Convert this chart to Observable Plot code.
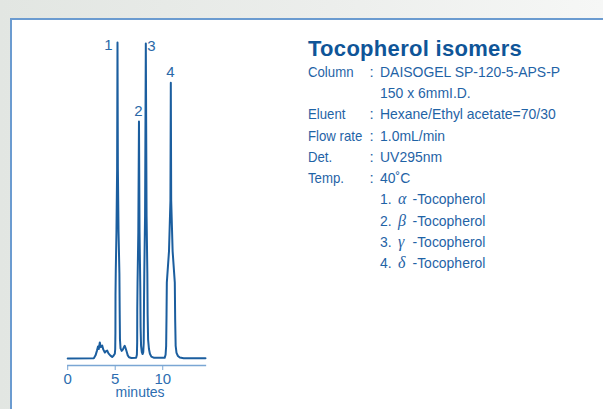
<!DOCTYPE html>
<html><head><meta charset="utf-8">
<script src="https://cdn.jsdelivr.net/npm/d3@7"></script>
<script src="https://cdn.jsdelivr.net/npm/@observablehq/plot@0.6"></script>
<style>
html,body{margin:0;padding:0;}
body{width:603px;height:409px;overflow:hidden;position:relative;background:linear-gradient(to right,#e2e6e2 0%,#eceeec 55%,#f6f7f6 100%);font-family:"Liberation Sans",Arial,sans-serif;}
#box{position:absolute;left:10px;top:18px;width:700px;height:500px;background:#fff;border-left:2px solid #6b9bd0;border-top:2px solid #6b9bd0;}
#chart{position:absolute;left:0;top:0;}
#info{position:absolute;left:0;top:0;}
</style></head><body>
<div id="box"></div><div id="chart"></div><svg id="info" width="603" height="409"></svg>
<script>
// ---- data ----
const title = "Tocopherol isomers";
const specLabels = ["Column", "", "Eluent", "Flow rate", "Det.", "Temp."];
const specValues = ["DAISOGEL SP-120-5-APS-P", "150 x 6mmI.D.", "Hexane/Ethyl acetate=70/30", "1.0mL/min", "UV295nm", "40˚C"];
const compoundNumbers = ["1.", "2.", "3.", "4."];
const compoundGreek = ["α", "β", "γ", "δ"];
const compoundName = "-Tocopherol";
const xTicks = [0, 5, 10];
const xLabel = "minutes";
const peakNumbers = ["1", "2", "3", "4"];
const peakTimes = [5.24, 7.5, 8.22, 10.85];
const peakHeights = [100, 75, 99.7, 87.3];
// chromatogram trace: [time (min), signal]
const trace = [
  [0,0],[2.75,0.1],[2.93,1.0],[3.08,2.5],[3.19,3.8],[3.27,3.0],[3.38,5.1],[3.48,3.6],[3.63,4.1],[3.75,2.8],
  [3.91,1.9],[4.03,2.3],[4.16,2.5],[4.29,1.6],[4.5,0.9],[4.68,0.5],[4.82,0.9],[4.96,1.5],
  [5.00,3],[5.02,8],[5.03,20],[5.06,28],[5.13,40],[5.20,60],[5.24,100],[5.28,60],[5.35,40],[5.44,27],
  [5.47,15],[5.50,6],[5.56,3.2],[5.68,2.4],[5.80,2.8],[5.92,3.6],[6.00,4.0],[6.08,3.4],[6.2,2.2],
  [6.32,1.0],[6.45,0.4],[6.7,0.15],[7.2,0.2],
  [7.28,1.2],[7.31,5],[7.32,15],[7.35,24],[7.43,40],[7.50,75],[7.56,40],[7.64,22],[7.67,10],[7.72,4],
  [7.80,2],[7.88,1.4],
  [7.95,2],[8.00,5],[8.03,18],[8.06,27],[8.14,45],[8.22,99.7],[8.30,45],[8.38,27],[8.41,14],[8.46,6],
  [8.55,3],[8.65,1.5],[8.80,0.6],[9.10,0.2],[10.2,0.2],
  [10.30,1.2],[10.36,4],[10.40,14],[10.43,24],[10.66,34],[10.81,50],[10.85,87.3],[10.89,50],[11.04,34],
  [11.27,24],[11.31,12],[11.36,4],[11.45,1.8],[11.60,0.8],[11.80,0.3],[12.2,0.1],[14.5,0.1]
];

// ---- chart ----
const blue = "#1b5e9f";
const axisBlue = "#7aa6d4";
const peaks = peakNumbers.map((n, i) => ({n, t: peakTimes[i], h: peakHeights[i], i}));
const chart = Plot.plot({
  width: 230, height: 409,
  marginLeft: 67.2, marginRight: 25, marginTop: 42, marginBottom: 44,
  style: {fontFamily: '"Liberation Sans", Arial, sans-serif', color: "#2c6db0", background: "transparent", overflow: "visible"},
  x: {domain: [0, 14.5], label: null},
  y: {domain: [-2.215, 100], axis: null},
  marks: [
    Plot.frame({anchor: "bottom", stroke: axisBlue, strokeWidth: 1.3}),
    Plot.axisX({ticks: xTicks, tickSize: 5, tickPadding: 3, fontSize: 15, stroke: axisBlue, fill: "#2c6db0", label: null}),
    Plot.line(trace, {x: d => d[0], y: d => d[1], stroke: blue, strokeWidth: 2, strokeLinejoin: "round"}),
    Plot.text(peaks.filter(d => d.i === 0), {x: "t", y: "h", text: "n", textAnchor: "end", dx: -5, dy: 3, fontSize: 15, fill: "#2a68a8"}),
    Plot.text(peaks.filter(d => d.i === 1 || d.i === 3), {x: "t", y: "h", text: "n", textAnchor: "middle", dx: -0.5, dy: -10, fontSize: 15, fill: "#2a68a8"}),
    Plot.text(peaks.filter(d => d.i === 2), {x: "t", y: "h", text: "n", textAnchor: "start", dx: 1.5, dy: 2.5, fontSize: 15, fill: "#2a68a8"}),
    Plot.text([xLabel], {frameAnchor: "bottom", lineAnchor: "top", text: d => d, dx: 3.5, dy: 22, fontSize: 14, fill: "#2c6db0"})
  ]
});
document.getElementById("chart").append(chart);

// ---- info block ----
const info = d3.select("#info").style("font-family", '"Liberation Sans", Arial, sans-serif');
info.append("text").attr("x", 308).attr("y", 56).attr("font-size", 22).attr("font-weight", "bold")
  .attr("letter-spacing", 0.3).attr("fill", "#0f5598").text(title);
const textBlue = "#1f63a6";
const lineY = i => 76.7 + i * 21.29;
function narrowText(x, y, s, size, squeeze) {
  const t = info.append("text").attr("x", x).attr("y", y).attr("font-size", size).attr("fill", textBlue).text(s);
  const w = t.node().getComputedTextLength();
  t.attr("textLength", w * squeeze).attr("lengthAdjust", "spacingAndGlyphs");
  return w * squeeze;
}
specLabels.forEach((l, i) => {
  const y = lineY(i);
  if (l) {
    const w = narrowText(308, y, l, 15, 0.88);
    info.append("text").attr("x", Math.max(369.5, 308 + w + 2.5)).attr("y", y).attr("font-size", 15).attr("fill", textBlue).text(":");
  }
  narrowText(380, y, specValues[i], 15, 0.93);
});
compoundNumbers.forEach((n, i) => {
  const y = lineY(specLabels.length + i);
  narrowText(380, y, n, 15, 0.93);
  info.append("text").attr("x", 398).attr("y", y).attr("font-size", 16).attr("font-style", "italic")
    .attr("font-family", '"Liberation Serif", "DejaVu Serif", serif').attr("fill", textBlue).text(compoundGreek[i]);
  narrowText(412.5, y, compoundName, 15, 0.93);
});
</script></body></html>
